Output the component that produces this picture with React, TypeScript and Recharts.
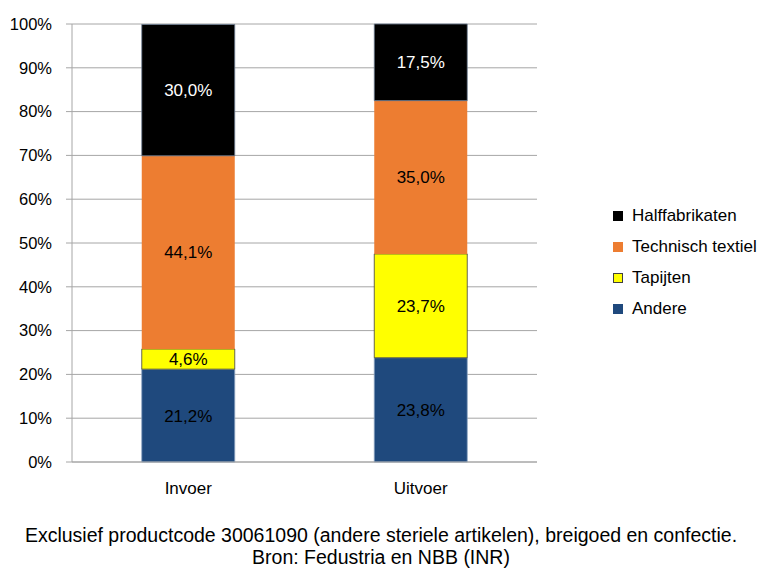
import { BarChart, Bar, XAxis, YAxis, CartesianGrid, LabelList } from 'recharts';

const categories = ['Invoer', 'Uitvoer'];
const andere = [21.2, 23.8];
const tapijten = [4.6, 23.7];
const technisch = [44.1, 35.0];
const halffabrikaten = [30.0, 17.5];
const yTicks = [0, 10, 20, 30, 40, 50, 60, 70, 80, 90, 100];

const chartData = categories.map((name, i) => ({
  name,
  idx: i + 0.5,
  andere: andere[i],
  tapijten: tapijten[i],
  technisch: technisch[i],
  halffabrikaten: halffabrikaten[i],
}));

// category boundaries for the small ticks under the x axis
const boundaryTicks = categories.map((_, i) => i + 1);

const series = [
  { key: 'andere', name: 'Andere', color: '#1f497d', stroke: '#8aa2c0', label: '#000' },
  { key: 'tapijten', name: 'Tapijten', color: '#ffff00', stroke: '#404040', label: '#000' },
  { key: 'technisch', name: 'Technisch textiel', color: '#ed7d31', stroke: 'none', label: '#000' },
  { key: 'halffabrikaten', name: 'Halffabrikaten', color: '#000000', stroke: '#6f7f94', label: '#fff' },
];

const FONT = '"Liberation Sans", Arial, sans-serif';
const fmt = (v: number) => `${v.toFixed(1).replace('.', ',')}%`;

function LegendBox() {
  const items = [...series].reverse();
  return (
    <div style={{ position: 'absolute', left: 613, top: 200, fontFamily: FONT, fontSize: 17, color: '#000' }}>
      {items.map((it) => (
        <div key={it.key} style={{ display: 'flex', alignItems: 'center', height: 31 }}>
          <span
            style={{
              display: 'inline-block',
              boxSizing: 'border-box',
              width: 10,
              height: 10,
              background: it.color,
              border: it.key === 'tapijten' ? '1px solid #404040' : 'none',
              marginRight: 9,
            }}
          />
          {it.name}
        </div>
      ))}
    </div>
  );
}

export default function App() {
  return (
    <div style={{ position: 'absolute', left: 0, top: 0, width: 762, height: 570, background: '#fff' }}>
      <BarChart
        width={762}
        height={510}
        data={chartData}
        margin={{ top: 24, right: 225, left: 0, bottom: 0 }}
        barCategoryGap="30%"
      >
        <CartesianGrid vertical={false} stroke="#a6a6a6" />
        <XAxis
          dataKey="name"
          height={48}
          tickSize={0}
          tickMargin={20}
          stroke="#a6a6a6"
          tick={{ fill: '#000', fontSize: 17, fontFamily: FONT }}
        />
        <XAxis
          xAxisId="bounds"
          type="number"
          dataKey="idx"
          domain={[0, categories.length]}
          ticks={boundaryTicks}
          height={0}
          tickSize={5}
          axisLine={false}
          tick={false}
          stroke="#a6a6a6"
        />
        <YAxis
          width={72}
          domain={[0, 100]}
          ticks={yTicks}
          interval={0}
          tickSize={6}
          tickMargin={14}
          stroke="#a6a6a6"
          tickFormatter={(v) => `${v}%`}
          tick={{ fill: '#000', fontSize: 16.5, fontFamily: FONT }}
        />
        {series.map((s) => (
          <Bar
            key={s.key}
            dataKey={s.key}
            name={s.name}
            stackId="a"
            fill={s.color}
            stroke={s.stroke}
            strokeWidth={s.stroke === 'none' ? 0 : 0.8}
            isAnimationActive={false}
          >
            <LabelList
              dataKey={s.key}
              position="center"
              formatter={fmt}
              fill={s.label}
              stroke="none"
              fontSize={17}
              fontFamily={FONT}
            />
          </Bar>
        ))}
      </BarChart>
      <LegendBox />
      <div
        style={{
          fontFamily: FONT,
          fontSize: 19.5,
          textAlign: 'center',
          lineHeight: '22px',
          color: '#000',
          marginTop: 14,
        }}
      >
        Exclusief productcode 30061090 (andere steriele artikelen), breigoed en confectie.
        <br />
        Bron: Fedustria en NBB (INR)
      </div>
    </div>
  );
}
